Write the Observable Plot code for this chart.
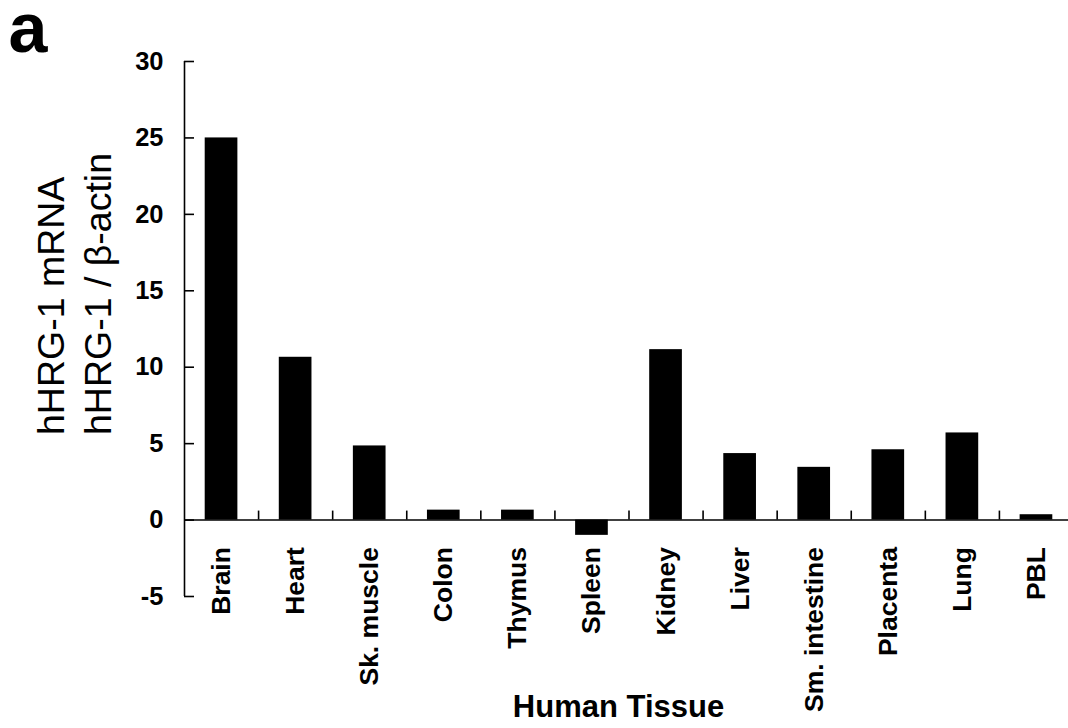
<!DOCTYPE html>
<html>
<head>
<meta charset="utf-8">
<script src="https://cdn.jsdelivr.net/npm/d3@7"></script>
<script src="https://cdn.jsdelivr.net/npm/@observablehq/plot@0.6"></script>
<style>
  html, body { margin: 0; padding: 0; background: #fff; overflow: hidden; }
  #chart svg { max-width: none !important; display: block; }
</style>
</head>
<body>
<div id="chart"></div>
<script>
const tissues = ["Brain", "Heart", "Sk. muscle", "Colon", "Thymus", "Spleen", "Kidney", "Liver", "Sm. intestine", "Placenta", "Lung", "PBL"];
const expression = [25.0, 10.65, 4.85, 0.65, 0.65, -1.0, 11.15, 4.35, 3.45, 4.6, 5.7, 0.35];
const yTicks = [-5, 0, 5, 10, 15, 20, 25, 30];
const yTitleLines = ["hHRG-1 mRNA", "hHRG-1 / \u03B2-actin"];
const xTitle = "Human Tissue";
const panelLabel = "a";

const rows = tissues.map((t, i) => ({tissue: t, value: expression[i], i}));
const boundaries = d3.range(1, tissues.length);
const font = "'Liberation Sans', Arial, Helvetica, sans-serif";

const chart = Plot.plot({
  width: 1073,
  height: 728,
  marginLeft: 184,
  marginRight: 0,
  marginTop: 61,
  marginBottom: 132,
  style: {fontFamily: font, background: "white", color: "black"},
  x: {type: "linear", domain: [0, tissues.length], axis: null},
  y: {domain: [-5, 30], ticks: yTicks, label: null},
  marks: [
    Plot.rect(rows, {
      x1: d => d.i, x2: d => d.i + 1, y1: 0, y2: "value",
      insetLeft: 20.7, insetRight: 20.7, fill: "black"
    }),
    // y axis line
    Plot.ruleX([0], {y1: -5, y2: 30, stroke: "black", strokeWidth: 1.6}),
    // x axis line at zero
    Plot.ruleY([0], {stroke: "black", strokeWidth: 1.6}),
    // y ticks pointing inward
    Plot.ruleY(yTicks, {x1: 0, x2: 0, insetRight: -10, stroke: "black", strokeWidth: 1.6}),
    // category boundary ticks pointing up from zero line
    Plot.ruleX(boundaries, {y1: 0, y2: 0, insetTop: -9, stroke: "black", strokeWidth: 1.6}),
    Plot.axisY({ticks: yTicks, tickSize: 0, tickPadding: 21, fontSize: 25.5, fontWeight: "bold", label: null, tickFormat: d => String(d)}),
    // category labels
    Plot.text(rows, {
      x: d => d.i + 0.5, y: 0, text: "tissue", rotate: -90,
      textAnchor: "end", dy: 27, fontSize: 26.5, fontWeight: "bold", fill: "black"
    }),
    // y title (two lines)
    Plot.text([yTitleLines[0]], {
      text: d => d, frameAnchor: "left", rotate: -90, textAnchor: "start",
      dx: -132.5, dy: 106, fontSize: 37.5, fill: "black"
    }),
    Plot.text([yTitleLines[1]], {
      text: d => d, frameAnchor: "left", rotate: -90, textAnchor: "start",
      dx: -85.5, dy: 106, fontSize: 37.5, fill: "black"
    }),
    // x title
    Plot.text([xTitle], {
      text: d => d, frameAnchor: "bottom", lineAnchor: "top",
      dx: -10.5, dy: 98, fontSize: 31, fontWeight: "bold", fill: "black"
    }),
    // panel label
    Plot.text([panelLabel], {
      text: d => d, frameAnchor: "top-left", textAnchor: "start", lineAnchor: "top",
      dx: -176, dy: -59, fontSize: 70, fontWeight: "bold", fill: "black"
    })
  ]
});
document.getElementById("chart").appendChild(chart);
</script>
</body>
</html>
